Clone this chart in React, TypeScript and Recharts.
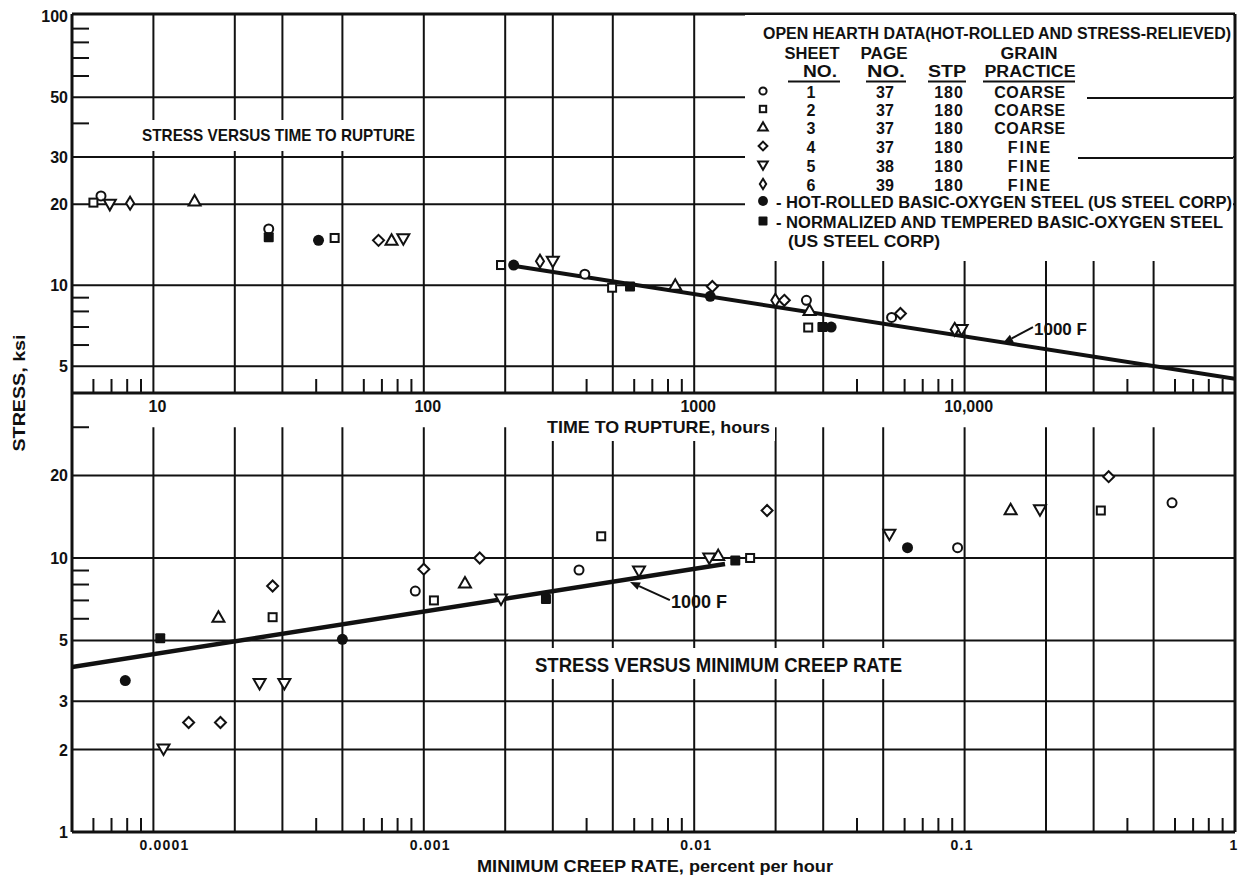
import React from "react";
import { ScatterChart, Scatter, XAxis, YAxis, ReferenceLine, Legend } from "recharts";

type Pt = [number, number];

// ---- stress vs time to rupture (hours, ksi) ----
const rupSheet1: Pt[] = [[6.4, 21.5], [26.7, 16.2], [394, 11.0], [2600, 8.8], [5370, 7.6]];
const rupSheet2: Pt[] = [[6.0, 20.3], [46.8, 15.0], [193, 11.9], [497, 9.8], [2640, 6.97]];
const rupSheet3: Pt[] = [[14.2, 20.6], [76, 14.7], [851, 10.0], [2670, 8.07]];
const rupSheet4: Pt[] = [[68, 14.7], [1167, 9.9], [2154, 8.8], [5790, 7.86]];
const rupSheet5: Pt[] = [[6.9, 20.0], [84, 14.9], [300, 12.3], [9750, 6.86]];
const rupSheet6: Pt[] = [[8.2, 20.2], [269, 12.3], [1995, 8.8], [9190, 6.86]];
const rupHotRolled: Pt[] = [[40.8, 14.7], [215, 11.9], [1146, 9.1], [3210, 7.0]];
const rupNormalized: Pt[] = [[26.7, 15.1], [579, 9.9], [2980, 7.0]];
const rupFit1000F: Pt[] = [[217, 11.8], [100000, 4.5]];

// ---- stress vs minimum creep rate (percent per hour, ksi) ----
const creepSheet1: Pt[] = [[0.00093, 7.57], [0.00375, 9.04], [0.0942, 10.9], [0.585, 15.9]];
const creepSheet2: Pt[] = [[0.000276, 6.08], [0.00109, 7.0], [0.00453, 12.0], [0.0161, 10.0], [0.319, 14.9]];
const creepSheet3: Pt[] = [[0.000174, 6.08], [0.00142, 8.1], [0.01227, 10.2], [0.148, 15.0]];
const creepSheet4: Pt[] = [[0.000135, 2.51], [0.000177, 2.51], [0.000276, 7.9], [0.001, 9.1], [0.00161, 10.0], [0.0186, 14.9], [0.341, 19.8]];
const creepSheet5: Pt[] = [[0.000109, 2.01], [0.000247, 3.48], [0.000305, 3.48], [0.00193, 7.08], [0.00625, 8.96], [0.01137, 10.0], [0.0527, 12.2], [0.19, 15.0]];
const creepHotRolled: Pt[] = [[0.0000787, 3.57], [0.0005, 5.05], [0.0615, 10.9]];
const creepNormalized: Pt[] = [[0.000106, 5.09], [0.00283, 7.08], [0.01419, 9.8]];
const creepFit1000F: Pt[] = [[0.00005, 4.0], [0.013, 9.5]];

// ---- axes ----
const rupTimeDomain = [5, 100000];
const rupStressDomain = [3.98, 102];
const rupTimeLabelTicks = [10, 100, 1000, 10000];
const rupTimeLabels = ["10", "100", "1000", "10,000"];
const rupTimeGrid = [10, 20, 30, 50, 100, 200, 300, 500, 1000, 2000, 3000, 5000, 10000, 20000, 30000, 50000];
const rupTimeMinor = [6, 7, 8, 9, 40, 60, 70, 80, 90, 400, 600, 700, 800, 900, 4000, 6000, 7000, 8000, 9000, 40000, 60000, 70000, 80000, 90000];
const rupStressGrid = [5, 10, 20, 30, 50];
const rupStressLabels = [5, 10, 20, 30, 50, 100];
const rupStressMinor = [6, 7, 8, 9, 40, 60, 70, 80, 90];

const creepRateDomain = [0.00005, 1];
const creepStressDomain = [1, 40];
const creepRateLabelTicks = [0.0001, 0.001, 0.01, 0.1, 1];
const creepRateLabels = ["0.0001", "0.001", "0.01", "0.1", "1"];
const creepRateGrid = [0.0001, 0.0002, 0.0003, 0.0005, 0.001, 0.002, 0.003, 0.005, 0.01, 0.02, 0.03, 0.05, 0.1, 0.2, 0.3, 0.5];
const creepRateMinor = [0.00006, 0.00007, 0.00008, 0.00009, 0.0004, 0.0006, 0.0007, 0.0008, 0.0009, 0.004, 0.006, 0.007, 0.008, 0.009, 0.04, 0.06, 0.07, 0.08, 0.09, 0.4, 0.6, 0.7, 0.8, 0.9];
const creepStressGrid = [2, 3, 5, 10, 20];
const creepStressLabels = [1, 2, 3, 5, 10, 20];
const creepStressMinor = [6, 7, 8, 9, 30];
const creepGridTop = 30;

const INK = "#111";
const FONT = "'Liberation Sans', Arial, sans-serif";

const toXY = (pts: Pt[]) => pts.map(([x, y]) => ({ x, y }));

const poly = (cx: number, cy: number, k: number, arr: number[][]) =>
  arr.map(([dx, dy]) => `${cx + dx * k},${cy + dy * k}`).join(" ");

function Marker({ kind, cx, cy, k = 1 }: { kind: string; cx: number; cy: number; k?: number }) {
  const open = { fill: "#fff", stroke: INK, strokeWidth: 2 };
  switch (kind) {
    case "circle":
      return <circle cx={cx} cy={cy} r={4.5 * k} {...open} />;
    case "square":
      return <rect x={cx - 4 * k} y={cy - 4 * k} width={8 * k} height={8 * k} {...open} />;
    case "triUp":
      return <polygon points={poly(cx, cy, k, [[0, -6], [6, 4.5], [-6, 4.5]])} {...open} />;
    case "diamond":
      return <polygon points={poly(cx, cy, k, [[0, -5.5], [5.5, 0], [0, 5.5], [-5.5, 0]])} {...open} />;
    case "triDown":
      return <polygon points={poly(cx, cy, k, [[-6, -4.5], [6, -4.5], [0, 6]])} {...open} />;
    case "narrow":
      return <polygon points={poly(cx, cy, k, [[0, -6.5], [4, 0], [0, 6.5], [-4, 0]])} {...open} />;
    case "dot":
      return <circle cx={cx} cy={cy} r={5.5 * k} fill={INK} />;
    default:
      return <rect x={cx - 5 * k} y={cy - 5 * k} width={10 * k} height={10 * k} rx={1} fill={INK} />;
  }
}

const rupSeries = [
  { kind: "circle", pts: rupSheet1 },
  { kind: "square", pts: rupSheet2 },
  { kind: "triUp", pts: rupSheet3 },
  { kind: "diamond", pts: rupSheet4 },
  { kind: "triDown", pts: rupSheet5 },
  { kind: "narrow", pts: rupSheet6 },
  { kind: "dot", pts: rupHotRolled },
  { kind: "block", pts: rupNormalized },
];

const creepSeries = [
  { kind: "circle", pts: creepSheet1 },
  { kind: "square", pts: creepSheet2 },
  { kind: "triUp", pts: creepSheet3 },
  { kind: "diamond", pts: creepSheet4 },
  { kind: "triDown", pts: creepSheet5 },
  { kind: "dot", pts: creepHotRolled },
  { kind: "block", pts: creepNormalized },
];

const legendRows = [
  { kind: "circle", sheet: "1", page: "37", stp: "180", grain: "COARSE" },
  { kind: "square", sheet: "2", page: "37", stp: "180", grain: "COARSE" },
  { kind: "triUp", sheet: "3", page: "37", stp: "180", grain: "COARSE" },
  { kind: "diamond", sheet: "4", page: "37", stp: "180", grain: "FINE" },
  { kind: "triDown", sheet: "5", page: "38", stp: "180", grain: "FINE" },
  { kind: "narrow", sheet: "6", page: "39", stp: "180", grain: "FINE" },
];

const txt = { fontFamily: FONT, fontWeight: 700, fill: INK } as const;

function xTick(labelVals: number[], labels: string[], small: boolean) {
  return (props: any) => {
    const { x, y, payload } = props;
    const i = labelVals.indexOf(payload.value);
    if (i < 0) return <line x1={x} x2={x} y1={y} y2={y - 14} stroke={INK} strokeWidth={2} />;
    const label = labels[i];
    if (small) {
      const lead = label.startsWith("0.");
      return (
        <text x={lead ? x - 14 : x - 1} y={y + 18} textAnchor={lead ? "start" : "middle"} fontSize={14} letterSpacing={1.2} {...txt}>
          {label}
        </text>
      );
    }
    return (
      <text x={x + 4} y={y + 19} textAnchor="middle" fontSize={16} {...txt}>
        {label}
      </text>
    );
  };
}

function yTick(labelVals: number[]) {
  return (props: any) => {
    const { x, y, payload } = props;
    if (labelVals.includes(payload.value))
      return (
        <text x={x - 4} y={y + 6} textAnchor="end" fontSize={16} {...txt}>
          {payload.value}
        </text>
      );
    return <line x1={x} x2={x + 17} y1={y} y2={y} stroke={INK} strokeWidth={2} />;
  };
}

function arrowShape(label: string, fontSize: number) {
  return (p: any) => {
    const { x1, y1, x2, y2 } = p;
    const a = Math.atan2(y1 - y2, x1 - x2);
    const L = 10, W = 4;
    const bx = x1 - L * Math.cos(a), by = y1 - L * Math.sin(a);
    const nx = -Math.sin(a) * W, ny = Math.cos(a) * W;
    return (
      <g>
        <line x1={x2} y1={y2} x2={bx} y2={by} stroke={INK} strokeWidth={2} />
        <polygon points={`${x1},${y1} ${bx + nx},${by + ny} ${bx - nx},${by - ny}`} fill={INK} />
        <text x={x2 + 1} y={y2 + 8} fontSize={fontSize} {...txt}>{label}</text>
      </g>
    );
  };
}

function LegendBox() {
  const cols = { sheet: 811, page: 885, stp: 949, grain: 1030 };
  const base = [97, 115, 133, 152, 171, 190];
  return (
    <svg width={488} height={246} viewBox="745 14 488 246" style={{ display: "block", background: "#fff" }}>
      <line x1={1087} x2={1233} y1={97} y2={97} stroke={INK} strokeWidth={2} />
      <line x1={1078} x2={1233} y1={157} y2={157} stroke={INK} strokeWidth={2} />
      <text x={763} y={38} fontSize={16} textLength={468} lengthAdjust="spacingAndGlyphs" {...txt}>
        OPEN HEARTH DATA(HOT-ROLLED AND STRESS-RELIEVED)
      </text>
      <text x={812} y={58} textAnchor="middle" fontSize={16} textLength={55} lengthAdjust="spacingAndGlyphs" {...txt}>SHEET</text>
      <text x={884} y={58} textAnchor="middle" fontSize={16} textLength={47} lengthAdjust="spacingAndGlyphs" {...txt}>PAGE</text>
      <text x={1029} y={58} textAnchor="middle" fontSize={16} textLength={57} lengthAdjust="spacingAndGlyphs" {...txt}>GRAIN</text>
      {[
        { t: "NO.", c: 820, w: 34, u: [788, 840] },
        { t: "NO.", c: 886, w: 38, u: [866, 906] },
        { t: "STP", c: 947, w: 38, u: [928, 966] },
        { t: "PRACTICE", c: 1030, w: 91, u: [983, 1075] },
      ].map((h, i) => (
        <g key={i}>
          <text x={h.c} y={76} textAnchor="middle" fontSize={16} textLength={h.w} lengthAdjust="spacingAndGlyphs" {...txt}>{h.t}</text>
          <line x1={h.u[0]} x2={h.u[1]} y1={80.5} y2={80.5} stroke={INK} strokeWidth={2} />
        </g>
      ))}
      {legendRows.map((r, i) => (
        <g key={r.sheet}>
          <Marker kind={r.kind} cx={763} cy={base[i] - 7} k={0.8} />
          <text x={cols.sheet} y={base[i]} textAnchor="middle" fontSize={16} {...txt}>{r.sheet}</text>
          <text x={cols.page} y={base[i]} textAnchor="middle" fontSize={16} {...txt}>{r.page}</text>
          <text x={cols.stp} y={base[i]} textAnchor="middle" fontSize={16} letterSpacing={1} {...txt}>{r.stp}</text>
          <text x={cols.grain} y={base[i]} textAnchor="middle" fontSize={16} letterSpacing={r.grain === "FINE" ? 2 : 0.5} {...txt}>{r.grain}</text>
        </g>
      ))}
      <Marker kind="dot" cx={763} cy={200} k={0.9} />
      <text x={776} y={207} fontSize={16} textLength={456} lengthAdjust="spacingAndGlyphs" {...txt}>
        - HOT-ROLLED BASIC-OXYGEN STEEL (US STEEL CORP)
      </text>
      <Marker kind="block" cx={763} cy={220} k={0.9} />
      <text x={776} y={227} fontSize={16} textLength={447} lengthAdjust="spacingAndGlyphs" {...txt}>
        - NORMALIZED AND TEMPERED BASIC-OXYGEN STEEL
      </text>
      <text x={788} y={246} fontSize={16} textLength={152} lengthAdjust="spacingAndGlyphs" {...txt}>
        (US STEEL CORP)
      </text>
    </svg>
  );
}

const axisLine = { stroke: INK, strokeWidth: 3 };
// grid drawn under the markers
const gridStroke: any = { stroke: INK, strokeWidth: 2, zIndex: -50 };

function RuptureChart() {
  const ticksX = [...rupTimeMinor, ...rupTimeLabelTicks].sort((a, b) => a - b);
  const ticksY = [...rupStressMinor, ...rupStressLabels].sort((a, b) => a - b);
  return (
    <ScatterChart width={1239} height={877} margin={{ top: 14, right: 4, bottom: 444, left: 0 }}>
      <XAxis type="number" dataKey="x" scale="log" domain={rupTimeDomain} allowDataOverflow ticks={ticksX} interval={0}
        tickSize={0} tickMargin={0} tickLine={false} axisLine={axisLine} height={40}
        tick={xTick(rupTimeLabelTicks, rupTimeLabels, false)} />
      <YAxis type="number" dataKey="y" scale="log" domain={rupStressDomain} allowDataOverflow ticks={ticksY} interval={0}
        tickSize={0} tickMargin={0} tickLine={false} axisLine={axisLine} width={72}
        tick={yTick(rupStressLabels)} />
      {rupTimeGrid.map((v) => <ReferenceLine key={"gx" + v} x={v} {...gridStroke} />)}
      {rupStressGrid.map((v) => <ReferenceLine key={"gy" + v} y={v} {...gridStroke} />)}
      <ReferenceLine y={rupStressDomain[1]} stroke={INK} strokeWidth={3} />
      <ReferenceLine x={rupTimeDomain[1]} stroke={INK} strokeWidth={3} />
      <Scatter data={toXY(rupFit1000F)} line={{ stroke: INK, strokeWidth: 4 }} shape={() => <g />} isAnimationActive={false} />
      {rupSeries.map((s, i) => (
        <Scatter key={i} data={toXY(s.pts)} isAnimationActive={false}
          shape={(p: any) => <Marker kind={s.kind} cx={p.cx} cy={p.cy} />} />
      ))}
      <ReferenceLine segment={[{ x: 13866, y: 6.1 }, { x: 17900, y: 7.0 }]} shape={arrowShape("1000 F", 17)} />
      <Legend layout="horizontal" verticalAlign="middle" align="center" content={() => <LegendBox />}
        wrapperStyle={{ left: 745, top: 15, width: 488, height: 246, background: "#fff", lineHeight: 0 }} />
    </ScatterChart>
  );
}

function CreepChart() {
  const ticksX = [...creepRateMinor, ...creepRateLabelTicks].sort((a, b) => a - b);
  const ticksY = [...creepStressMinor, ...creepStressLabels].sort((a, b) => a - b);
  return (
    <ScatterChart width={1239} height={877} margin={{ top: 393, right: 4, bottom: 5, left: 0 }}>
      <XAxis type="number" dataKey="x" scale="log" domain={creepRateDomain} allowDataOverflow ticks={ticksX} interval={0}
        tickSize={0} tickMargin={0} tickLine={false} axisLine={axisLine} height={40}
        tick={xTick(creepRateLabelTicks, creepRateLabels, true)} />
      <YAxis type="number" dataKey="y" scale="log" domain={creepStressDomain} allowDataOverflow ticks={ticksY} interval={0}
        tickSize={0} tickMargin={0} tickLine={false} axisLine={axisLine} width={72}
        tick={yTick(creepStressLabels)} />
      {creepRateGrid.map((v) => (
        <ReferenceLine key={"gx" + v} segment={[{ x: v, y: creepStressDomain[0] }, { x: v, y: creepGridTop }]} {...gridStroke} />
      ))}
      {creepStressGrid.map((v) => <ReferenceLine key={"gy" + v} y={v} {...gridStroke} />)}
      <ReferenceLine x={creepRateDomain[1]} stroke={INK} strokeWidth={3} />
      <Scatter data={toXY(creepFit1000F)} line={{ stroke: INK, strokeWidth: 4.5 }} shape={() => <g />} isAnimationActive={false} />
      {creepSeries.map((s, i) => (
        <Scatter key={i} data={toXY(s.pts)} isAnimationActive={false}
          shape={(p: any) => <Marker kind={s.kind} cx={p.cx} cy={p.cy} />} />
      ))}
      <ReferenceLine segment={[{ x: 0.00579, y: 8.17 }, { x: 0.00813, y: 7.02 }]} shape={arrowShape("1000 F", 18)} />
    </ScatterChart>
  );
}

export default function App() {
  const layer: React.CSSProperties = { position: "absolute", left: 0, top: 0 };
  return (
    <div style={{ position: "absolute", left: 0, top: 0, width: 1239, height: 877, background: "#fff", overflow: "hidden" }}>
      <div style={layer}><CreepChart /></div>
      <div style={layer}><RuptureChart /></div>
      <svg width={1239} height={877} style={{ ...layer, pointerEvents: "none" }}>
        <rect x={137} y={120} width={284} height={31} fill="#fff" />
        <text x={142} y={141} fontSize={17} textLength={273} lengthAdjust="spacingAndGlyphs" {...txt}>
          STRESS VERSUS TIME TO RUPTURE
        </text>
        <rect x={530} y={648} width={376} height={31} fill="#fff" />
        <text x={535} y={672} fontSize={20} textLength={367} lengthAdjust="spacingAndGlyphs" {...txt}>
          STRESS VERSUS MINIMUM CREEP RATE
        </text>
        <rect x={543} y={417} width={232} height={24} fill="#fff" />
        <text x={547} y={433} fontSize={17} textLength={223} lengthAdjust="spacingAndGlyphs" {...txt}>
          TIME TO RUPTURE, hours
        </text>
        <text x={477} y={872} fontSize={17} textLength={356} lengthAdjust="spacingAndGlyphs" {...txt}>
          MINIMUM CREEP RATE, percent per hour
        </text>
        <text transform="translate(25 393) rotate(-90)" textAnchor="middle" fontSize={16} textLength={117} lengthAdjust="spacingAndGlyphs" {...txt}>
          STRESS, ksi
        </text>
      </svg>
    </div>
  );
}
